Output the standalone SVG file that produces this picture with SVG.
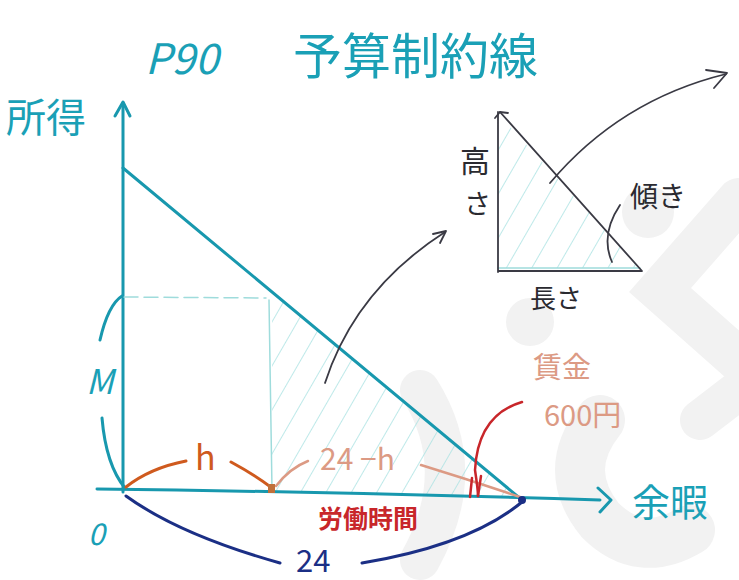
<svg xmlns="http://www.w3.org/2000/svg" width="739" height="580" viewBox="0 0 739 580">
<style>
.ink{fill:none;stroke-linecap:round;stroke-linejoin:round}
.teal{stroke:#1898ae;stroke-width:3}
.lt{stroke:#9fdcdc;stroke-width:1.5}
.dk{stroke:#3a3a44;stroke-width:1.8}
.or{stroke:#cf5a1e;stroke-width:3}
.sal{stroke:#dc9a84;stroke-width:2.5}
.red{stroke:#c8262a;stroke-width:2.5}
.nv{stroke:#1b2f85;stroke-width:3}
.wm{fill:none;stroke:#f2f2f2;stroke-linecap:round}
text{font-family:"Noto Sans CJK JP","Noto Sans",sans-serif}
.tt{fill:#1aa0b6}
</style>
<defs>
<pattern id="hatch" width="22" height="22" patternUnits="userSpaceOnUse" patternTransform="rotate(30)">
<line x1="0" y1="0" x2="0" y2="22" stroke="#a8e2e2" stroke-width="1.5"/>
</pattern>
</defs>
<rect width="739" height="580" fill="#ffffff"/>
<g id="watermark">
<circle cx="530" cy="322" r="24" fill="#f2f2f2"/>
<circle cx="648" cy="212" r="26" fill="#f2f2f2"/>
<path class="wm" stroke-width="44" d="M739 200 L660 290 L739 360"/>
<path class="wm" stroke-width="50" d="M600 420 Q560 470 600 520 Q640 560 690 530"/>
<path class="wm" stroke-width="40" d="M700 420 L739 390"/>
<path class="wm" stroke-width="40" d="M420 390 Q470 470 420 560"/>
</g>
<g id="shading">
<polygon points="272,292 272,490 522,498" fill="url(#hatch)"/>
<polygon points="498,114 498,268 640,268" fill="url(#hatch)"/>
</g>
<g id="connectors">
<path class="ink teal" d="M97 489 Q350 492 600 500"/>
<path class="ink teal" d="M598 488 L611 500 L600 512"/>
<path class="ink teal" d="M123 492 L123 103"/>
<path class="ink teal" d="M115 116 L123 102 L130 116"/>
<path class="ink teal" d="M123 168 L522 500" stroke-width="3.2"/>
<path class="ink lt" d="M124 297 L266 298" stroke-dasharray="14 6"/>
<path class="ink lt" d="M269 300 L272 490"/>
<path class="ink lt" d="M498 268 L640 268"/>
<path class="ink dk" d="M498 112 L498 272 M498 271 L642 271 L500 112"/>
<path class="ink dk" d="M495 118 L500 112 L508 113"/>
<path class="ink dk" d="M325 383 Q355 290 445 232"/>
<path class="ink dk" d="M433 234 L446 231 L440 243"/>
<path class="ink dk" d="M550 183 Q620 100 726 74"/>
<path class="ink dk" d="M706 70 L727 73 L714 88"/>
<path class="ink dk" d="M620 205 Q600 235 612 262"/>
<path class="ink teal" d="M100 340 Q108 305 122 296" stroke-width="2.5"/>
<path class="ink teal" d="M102 418 Q106 465 125 488" stroke-width="2.5"/>
<path class="ink or" d="M126 487 Q150 468 186 461"/>
<path class="ink or" d="M231 462 Q255 475 272 488"/>
<path class="ink sal" d="M276 486 Q290 468 308 461"/>
<path class="ink sal" d="M421 465 Q470 480 520 497"/>
<path class="ink red" d="M522 402 Q478 415 475 470 Q478 490 478 496"/>
<path class="ink red" d="M472 478 L470 497 M481 476 L478 496" stroke-width="2"/>
<path class="ink nv" d="M126 496 Q180 535 280 563"/>
<path class="ink nv" d="M362 563 Q470 545 522 502"/>
<circle cx="522" cy="500" r="4" fill="#1b2f85"/>
<rect x="268" y="484" width="7" height="9" fill="#c0703a"/>
</g>
<g id="title"><text class="tt" x="145" y="74" font-size="42" font-style="italic">P90</text><text class="tt" x="293" y="74" font-size="49">予算制約線</text></g>
<g id="label-income"><text class="tt" x="6" y="132" font-size="40">所得</text></g>
<g id="label-leisure"><text class="tt" x="632" y="516" font-size="38">余暇</text></g>
<g id="label-M"><text class="tt" x="86" y="394" font-size="34" font-style="italic">M</text></g>
<g id="label-0"><text class="tt" x="88" y="545" font-size="30" font-style="italic">0</text></g>
<g id="label-h"><text x="195" y="470" font-size="34" fill="#cf5a1e">h</text></g>
<g id="label-24h"><text x="320" y="470" font-size="30" fill="#dc9a84">24 −h</text></g>
<g id="label-wage"><text x="533" y="378" font-size="29" fill="#dc9a84">賃金</text><text x="544" y="426" font-size="29" fill="#dc9a84">600円</text></g>
<g id="label-labor"><text x="318" y="528" font-size="25" font-weight="bold" fill="#c8262a">労働時間</text></g>
<g id="label-24"><text x="296" y="572" font-size="31" fill="#1b2f85">24</text></g>
<g id="label-height"><text x="460" y="172" font-size="30" fill="#2a2a30">高</text><text x="464" y="214" font-size="27" fill="#2a2a30">さ</text></g>
<g id="label-length"><text x="530" y="308" font-size="26" fill="#2a2a30">長さ</text></g>
<g id="label-slope"><text x="630" y="207" font-size="28" fill="#2a2a30">傾き</text></g>
</svg>
